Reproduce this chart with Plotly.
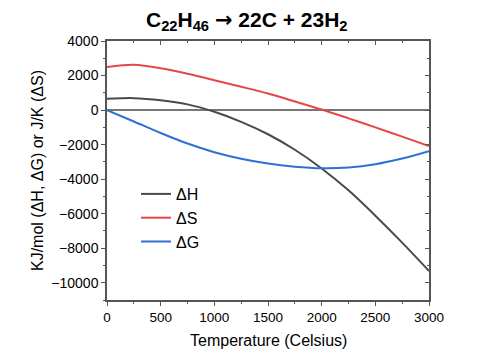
import plotly.graph_objects as go

temperature = [0, 250, 500, 750, 1000, 1250, 1500, 1750, 2000, 2250, 2500, 2750, 3000]
delta_h = [650, 690, 570, 330, -100, -680, -1400, -2300, -3380, -4650, -6120, -7680, -9320]
delta_s = [2500, 2620, 2420, 2100, 1730, 1350, 960, 500, 30, -480, -1000, -1540, -2080]
delta_g = [0, -660, -1330, -1940, -2440, -2820, -3100, -3280, -3370, -3330, -3140, -2810, -2380]

names = ["ΔH", "ΔS", "ΔG"]
colors = ["#4a4a4a", "#e3474c", "#2f6fd6"]

y_ticks = [-10000, -8000, -6000, -4000, -2000, 0, 2000, 4000]
y_ticktext = [("\u2212" + str(-v)) if v < 0 else str(v) for v in y_ticks]
y_minor = [-11000, -9000, -7000, -5000, -3000, -1000, 1000, 3000]
x_ticks = [0, 500, 1000, 1500, 2000, 2500, 3000]
x_minor = [250, 750, 1250, 1750, 2250, 2750]

FONT = "Liberation Sans, Arial, sans-serif"

# page is offset by the 8px body margin; figure sized to fit the window
W, H = 484, 350
PL, PT, PW, PH = 107, 41, 322, 259  # plot area in page pixels


def px(page_x):
    return (page_x - PL) / PW


def py(page_y):
    return (PT + PH - page_y) / PH


fig = go.Figure()
for name, ys, c in zip(names, [delta_h, delta_s, delta_g], colors):
    fig.add_trace(go.Scatter(x=temperature, y=ys, name=name, mode="lines",
                             line=dict(color=c, width=2, shape="spline", smoothing=0.8)))

fig.add_trace(go.Scatter(x=[None], y=[None], xaxis="x2", yaxis="y2", showlegend=False, hoverinfo="skip"))

axis_color = "#555555"
fig.update_layout(
    width=W, height=H,
    margin=dict(l=PL - 8, r=W - (PL - 8) - PW, t=PT - 8, b=H - (PT - 8) - PH, autoexpand=False),
    paper_bgcolor="white", plot_bgcolor="white",
    font=dict(family=FONT, color="black"),
    showlegend=True,
    legend=dict(x=0.09, y=py(177), xanchor="left", yanchor="top",
                bgcolor="rgba(0,0,0,0)", font=dict(size=16, family=FONT),
                tracegroupgap=0),
    xaxis=dict(range=[0, 3000], tickmode="array", tickvals=x_ticks, automargin=False,
               ticks="outside", ticklen=4, tickwidth=1.2, tickcolor=axis_color,
               minor=dict(tickvals=x_minor, ticks="outside", ticklen=2, tickcolor=axis_color),
               showline=True, linecolor=axis_color, linewidth=1.5, showgrid=False, zeroline=False,
               tickfont=dict(size=13.5)),
    yaxis=dict(range=[-11000, 4000], tickmode="array", tickvals=y_ticks, ticktext=y_ticktext, automargin=False,
               ticks="outside", ticklen=4, tickwidth=1.2, tickcolor=axis_color,
               minor=dict(tickvals=y_minor, ticks="outside", ticklen=2, tickcolor=axis_color),
               showline=True, linecolor=axis_color, linewidth=1.5, showgrid=False,
               zeroline=True, zerolinecolor="#777777", zerolinewidth=1.5,
               tickfont=dict(size=14)),
    xaxis2=dict(range=[0, 3000], overlaying="x", side="top", anchor="y2", automargin=False,
                tickmode="array", tickvals=x_ticks,
                minor=dict(tickvals=x_minor, ticks="inside", ticklen=2, tickcolor=axis_color),
                ticks="inside", ticklen=4, tickwidth=1.2, tickcolor=axis_color, showticklabels=False,
                showline=True, linecolor=axis_color, linewidth=1.5, showgrid=False, zeroline=False),
    yaxis2=dict(range=[-11000, 4000], overlaying="y", side="right", anchor="x2", automargin=False,
                tickmode="array", tickvals=y_ticks,
                minor=dict(tickvals=y_minor, ticks="inside", ticklen=2, tickcolor=axis_color),
                ticks="inside", ticklen=4, tickwidth=1.2, tickcolor=axis_color, showticklabels=False,
                showline=True, linecolor=axis_color, linewidth=1.5, showgrid=False, zeroline=False),
    annotations=[
        dict(text="<b>C<sub>22</sub>H<sub>46</sub> <span style='font-family:DejaVu Sans'>→</span> 22C + 23H<sub>2</sub></b>",
             xref="paper", yref="paper", x=px(246), y=py(21), xanchor="center", yanchor="middle",
             showarrow=False, font=dict(size=21, family=FONT, color="black")),
        dict(text="KJ/mol (ΔH, ΔG) or J/K (ΔS)", textangle=-90,
             xref="paper", yref="paper", x=px(37), y=py(171), xanchor="center", yanchor="middle",
             showarrow=False, font=dict(size=16, family=FONT, color="black")),
        dict(text="Temperature (Celsius)",
             xref="paper", yref="paper", x=px(268), y=py(340), xanchor="center", yanchor="middle",
             showarrow=False, font=dict(size=16, family=FONT, color="black")),
    ],
)

fig.write_html("out.html")
